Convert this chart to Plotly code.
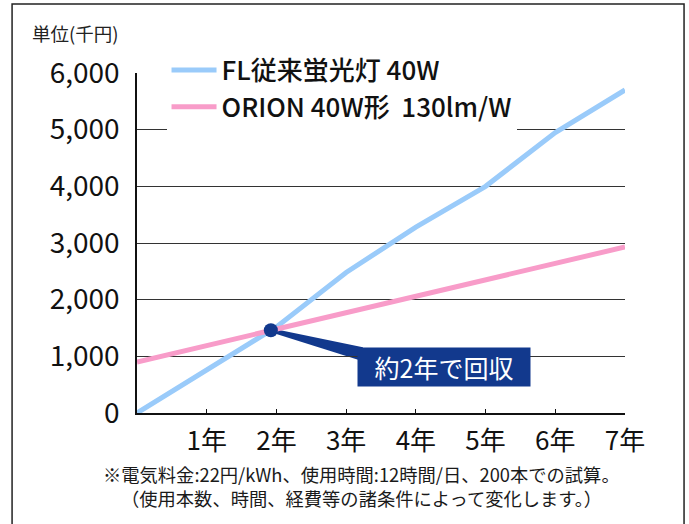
import plotly.graph_objects as go

years = [0, 1, 2, 3, 4, 5, 6, 7]
fl_cost = [0, 760, 1520, 2480, 3280, 4000, 4950, 5700]
orion_cost = [900, 1190, 1480, 1770, 2060, 2350, 2640, 2930]
fl_name = "FL従来蛍光灯 40W"
orion_name = "ORION 40W形  130lm/W"
x_tickvals = [1, 2, 3, 4, 5, 6, 7]
x_ticklabels = ["1年", "2年", "3年", "4年", "5年", "6年", "7年"]
y_tickvals = [0, 1000, 2000, 3000, 4000, 5000, 6000]
y_ticklabels = ["0", "1,000", "2,000", "3,000", "4,000", "5,000", "6,000"]
payback_x = [1.92]
payback_y = [1460]
payback_label = "約2年で回収"
unit_label = "単位(千円)"
note_lines = ["※電気料金:22円/kWh、使用時間:12時間/日、200本での試算。",
              "（使用本数、時間、経費等の諸条件によって変化します。）"]

FONT = "Noto Sans CJK JP"
BLUE = "#9acbfa"
PINK = "#f89cc9"
NAVY = "#12398d"

fig = go.Figure()
fig.add_trace(go.Scatter(x=years, y=fl_cost, mode="lines", name=fl_name,
                         line=dict(color=BLUE, width=5)))
fig.add_trace(go.Scatter(x=years, y=orion_cost, mode="lines", name=orion_name,
                         line=dict(color=PINK, width=5)))
fig.add_trace(go.Scatter(x=payback_x, y=payback_y, mode="markers", showlegend=False,
                         marker=dict(color=NAVY, size=14)))

# callout wedge from the payback point to the label box
fig.add_shape(type="path", xref="x", yref="y", xsizemode="pixel", ysizemode="pixel",
              xanchor=payback_x[0], yanchor=payback_y[0],
              path="M 0,2 L 92,-17 L 92,-31 L 0,-2 Z",
              fillcolor=NAVY, line=dict(width=0), layer="below")

fig.add_annotation(x=payback_x[0], y=payback_y[0], xref="x", yref="y",
                   text=payback_label, showarrow=False,
                   xanchor="left", yanchor="top", xshift=86, yshift=-17,
                   bgcolor=NAVY, borderpad=4, width=164, height=30,
                   font=dict(family=FONT, size=25, color="white"))

fig.add_annotation(x=-0.0328, y=1.118, xref="paper", yref="paper", text=unit_label,
                   showarrow=False, xanchor="right", yanchor="middle",
                   font=dict(family=FONT, size=18.5, color="#222"))

for i, line in enumerate(note_lines):
    fig.add_annotation(x=0.461, y=-0.180 - i * 0.071, xref="paper", yref="paper",
                       text=line, showarrow=False, xanchor="center", yanchor="middle",
                       font=dict(family=FONT, size=18.3, color="#1a1a1a"))

# outer frame
fig.add_shape(type="rect", xref="paper", yref="paper",
              x0=-0.256, x1=1.121, y0=-0.36, y1=1.203,
              line=dict(color="#222", width=1.5), layer="above")

fig.update_layout(
    width=689, height=524,
    margin=dict(l=137, r=64, t=73, b=111, autoexpand=False),
    paper_bgcolor="white", plot_bgcolor="white",
    font=dict(family=FONT, color="#111"),
    showlegend=True,
    legend=dict(x=0.0605, y=1.078, xanchor="left", yanchor="top",
                bgcolor="white", borderwidth=0, itemwidth=45,
                font=dict(family=FONT, size=26, color="#111", weight=500),
                tracegroupgap=0),
    xaxis=dict(range=[0, 7], tickvals=x_tickvals, ticktext=x_ticklabels,
               showgrid=False, zeroline=False, showline=True, linecolor="#111",
               linewidth=2, ticks="inside", ticklen=4, tickcolor="#111",
               automargin=False, ticklabelstandoff=4,
               tickfont=dict(family=FONT, size=26, color="#111"), fixedrange=True),
    yaxis=dict(range=[0, 6000], tickvals=y_tickvals, ticktext=y_ticklabels,
               showgrid=True, gridcolor="#333", gridwidth=1, zeroline=False,
               showline=True, linecolor="#111", linewidth=1.5, ticks="",
               ticklabelstandoff=10, automargin=False,
               tickfont=dict(family=FONT, size=28, color="#111"), fixedrange=True),
)

fig.write_html("out.html", config={"displayModeBar": False},
               post_script="document.body.style.margin='0';")
